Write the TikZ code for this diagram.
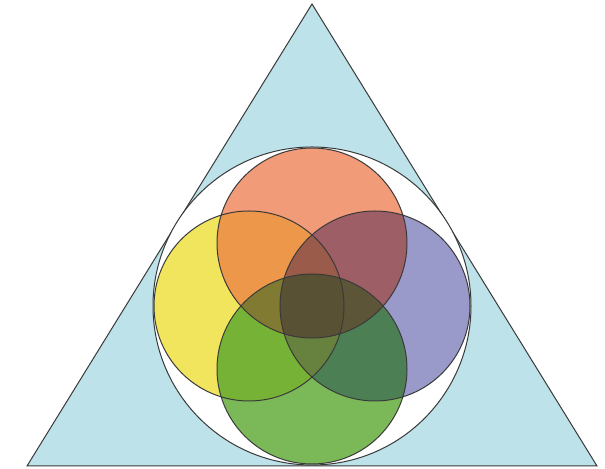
\documentclass[tikz,border=0pt]{standalone}
\definecolor{tribg}{HTML}{BDE2EA}
\definecolor{edge}{HTML}{3A3A3A}
\definecolor{topc}{HTML}{F29B79}
\definecolor{lefc}{HTML}{F1E55E}
\definecolor{rigc}{HTML}{9A9ACA}
\definecolor{botc}{HTML}{7BB958}
\definecolor{tlc}{HTML}{EC974A}
\definecolor{trc}{HTML}{9E5E66}
\definecolor{blc}{HTML}{76B236}
\definecolor{brc}{HTML}{4D7F55}
\definecolor{tlrc}{HTML}{9B5B4A}
\definecolor{blrc}{HTML}{67813F}
\definecolor{tlbc}{HTML}{817A32}
\definecolor{trbc}{HTML}{5D5537}
\definecolor{quadc}{HTML}{595133}
\begin{document}
\begin{tikzpicture}[x=0.5pt,y=0.5pt,line width=0.5pt]
\useasboundingbox (0,0) rectangle (605,469);
\coordinate (apex) at (312,465);
\coordinate (bl) at (27,3);
\coordinate (br) at (597,3);
\coordinate (mid) at (312,163);
\coordinate (ct) at (312,226);
\coordinate (cl) at (249,163);
\coordinate (cr) at (375,163);
\coordinate (cb) at (312,100);
\draw[edge,fill=tribg] (bl) -- (apex) -- (br) -- cycle;
\draw[edge,fill=white] (mid) circle (159);
% single circles
\fill[lefc] (cl) circle (95);
\fill[rigc] (cr) circle (95);
\fill[topc] (ct) circle (95);
\fill[botc] (cb) circle (95);
% pairs
\begin{scope}
\clip (ct) circle (95);
\fill[tlc] (cl) circle (95);
\fill[trc] (cr) circle (95);
\end{scope}
\begin{scope}
\clip (cb) circle (95);
\fill[blc] (cl) circle (95);
\fill[brc] (cr) circle (95);
\end{scope}
% triples
\begin{scope}
\clip (cl) circle (95);
\clip (cr) circle (95);
\fill[tlrc] (ct) circle (95);
\fill[blrc] (cb) circle (95);
\end{scope}
\begin{scope}
\clip (ct) circle (95);
\clip (cb) circle (95);
\fill[tlbc] (cl) circle (95);
\fill[trbc] (cr) circle (95);
\end{scope}
% all four
\begin{scope}
\clip (ct) circle (95);
\clip (cb) circle (95);
\clip (cl) circle (95);
\fill[quadc] (cr) circle (95);
\end{scope}
% outlines
\foreach \c in {cl,cr,ct,cb}
  \draw[edge] (\c) circle (95);
\end{tikzpicture}
\end{document}
